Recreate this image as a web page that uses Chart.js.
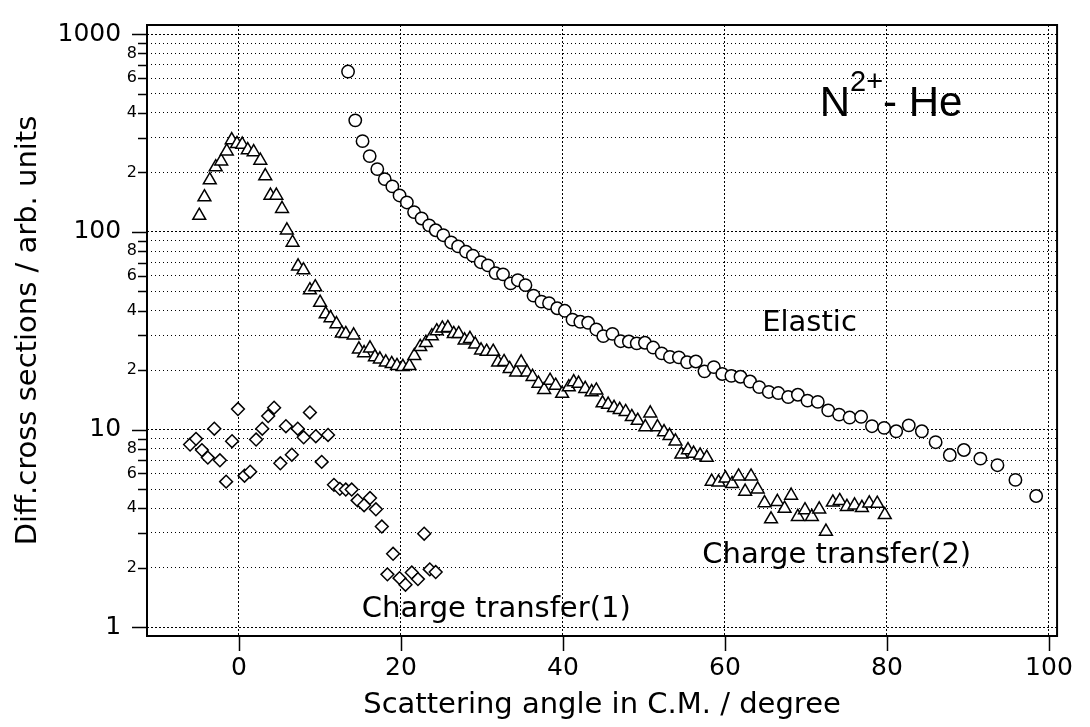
<!DOCTYPE html>
<html>
<head>
<meta charset="UTF-8">
<title>N2+ - He</title>
<script src="https://cdn.jsdelivr.net/npm/chart.js"></script>
<style>
  html, body { margin: 0; padding: 0; background: #fff; }
  #wrap { width: 1090px; height: 727px; }
</style>
</head>
<body>
<div id="wrap"><canvas id="cs"></canvas></div>
<script>
// Elastic (circles)
const elasticX = [13.47, 14.36, 15.26, 16.14, 17.08, 18.00, 18.94, 19.83, 20.73, 21.62,
  22.55, 23.48, 24.29, 25.23, 26.20, 27.06, 28.03, 28.88, 29.85, 30.74,
  31.68, 32.60, 33.54, 34.43, 35.37, 36.37, 37.35, 38.28, 39.29, 40.23,
  41.18, 42.14, 43.11, 44.12, 44.98, 46.11, 47.13, 48.14, 49.11, 50.12,
  51.14, 52.19, 53.21, 54.31, 55.32, 56.41, 57.47, 58.63, 59.67, 60.79,
  61.92, 63.10, 64.23, 65.41, 66.59, 67.81, 69.00, 70.19, 71.46, 72.75,
  74.09, 75.39, 76.81, 78.15, 79.65, 81.14, 82.69, 84.31, 86.01, 87.76,
  89.50, 91.53, 93.64, 95.86, 98.42];
const elasticY = [648, 367, 288, 242, 208, 185, 170, 153, 141, 126,
  117, 108, 102, 96.3, 88.5, 84.5, 79.5, 75.9, 70.3, 67.7,
  61.9, 61.0, 54.9, 57.0, 53.8, 47.6, 44.4, 43.6, 41.1, 39.9,
  36.0, 35.1, 34.7, 32.1, 29.7, 30.5, 28.0, 27.9, 27.3, 27.5,
  26.0, 24.3, 23.3, 23.2, 21.9, 22.1, 19.7, 20.7, 19.1, 18.7,
  18.5, 17.5, 16.4, 15.5, 15.3, 14.6, 15.0, 14.0, 13.8, 12.5,
  11.9, 11.5, 11.6, 10.4, 10.2, 9.80, 10.5, 9.80, 8.63, 7.43,
  7.88, 7.13, 6.60, 5.56, 4.61];

// Charge transfer(2) (triangles)
const ct2X = [-4.90, -4.26, -3.60, -2.87, -2.19, -1.50, -0.89, -0.24, 0.41, 1.09,
  1.82, 2.64, 3.25, 3.89, 4.62, 5.32, 5.92, 6.62, 7.30, 7.96,
  8.76, 9.42, 10.02, 10.71, 11.31, 12.04, 12.70, 13.19, 14.16, 14.81,
  15.45, 16.18, 16.79, 17.40, 18.13, 18.86, 19.51, 20.24, 21.05, 21.65,
  22.38, 23.08, 23.81, 24.42, 25.11, 25.79, 26.52, 27.13, 27.86, 28.52,
  29.16, 29.89, 30.58, 31.39, 32.00, 32.73, 33.42, 34.23, 34.84, 35.57,
  36.25, 36.98, 37.68, 38.41, 39.10, 39.90, 40.72, 41.33, 41.93, 42.75,
  43.55, 44.12, 44.89, 45.58, 46.31, 47.01, 47.74, 48.50, 49.23, 50.17,
  50.78, 51.67, 52.48, 53.16, 53.89, 54.62, 55.44, 56.13, 56.93, 57.75,
  58.36, 59.21, 60.06, 60.88, 61.68, 62.49, 63.22, 64.04, 64.89, 65.69,
  66.47, 67.36, 68.17, 69.00, 69.88, 70.73, 71.64, 72.47, 73.32, 74.17,
  75.06, 76.00, 76.91, 77.82, 78.80, 79.73];
const ct2Y = [121, 150, 183, 213, 228, 256, 292, 279, 277, 260,
  254, 230, 192, 153, 153, 131, 102, 88.4, 67.1, 64.1,
  50.8, 52.6, 43.9, 38.4, 36.7, 34.2, 30.7, 30.5, 30.0, 25.5,
  24.4, 25.8, 23.3, 22.7, 21.9, 21.5, 21.0, 20.8, 21.0, 23.6,
  26.2, 27.5, 29.7, 31.5, 32.5, 32.7, 30.5, 30.5, 28.3, 28.8,
  27.0, 25.2, 24.8, 24.8, 21.9, 22.0, 20.3, 19.5, 21.9, 19.5,
  18.5, 17.1, 15.9, 17.7, 16.7, 15.2, 16.4, 17.4, 17.1, 16.1,
  15.5, 15.8, 13.6, 13.4, 12.9, 12.6, 12.3, 11.6, 11.1, 10.3,
  12.1, 10.3, 9.72, 9.31, 8.73, 7.49, 7.88, 7.57, 7.40, 7.21,
  5.46, 5.41, 5.66, 5.31, 5.80, 4.86, 5.80, 4.99, 4.25, 3.52,
  4.31, 3.98, 4.64, 3.62, 3.91, 3.62, 3.95, 3.05, 4.28, 4.36,
  4.07, 4.14, 4.02, 4.24, 4.22, 3.70];

// Charge transfer(1) (diamonds)
const ct1X = [-6.03, -5.30, -4.57, -3.84, -3.04, -2.35, -1.58, -0.85, -0.12, 0.69,
  1.39, 2.12, 2.88, 3.61, 4.34, 5.11, 5.80, 6.53, 7.26, 7.99,
  8.76, 9.49, 10.22, 11.00, 11.73, 12.46, 13.19, 13.92, 14.65, 15.45,
  16.18, 16.91, 17.64, 18.33, 19.03, 19.83, 20.56, 21.34, 22.10, 22.87,
  23.56, 24.29];
const ct1Y = [8.40, 8.97, 7.87, 7.21, 10.1, 6.99, 5.45, 8.73, 12.7, 5.84,
  6.12, 8.90, 10.1, 11.7, 12.9, 6.75, 10.4, 7.46, 10.1, 9.14,
  12.2, 9.25, 6.86, 9.39, 5.25, 5.01, 4.97, 4.97, 4.38, 4.14,
  4.50, 3.95, 3.23, 1.85, 2.35, 1.77, 1.64, 1.89, 1.75, 2.97,
  1.96, 1.90];

// axes
const xTicks = [0, 20, 40, 60, 80, 100];
const yTicks = [1, 2, 3, 4, 5, 6, 7, 8, 9,
  10, 20, 30, 40, 50, 60, 70, 80, 90,
  100, 200, 300, 400, 500, 600, 700, 800, 900, 1000];
const yLabelled = [2, 4, 6, 8];

// text on the plot: [text, x, y] in data units (y = baseline)
const notes = [
  ['Elastic', 64.6, 31.5],
  ['Charge transfer(2)', 57.2, 2.10],
  ['Charge transfer(1)', 15.17, 1.13]
];

const FONT = "'DejaVu Sans', sans-serif";

function isDecade(v) {
  const e = Math.log10(v);
  return Math.abs(e - Math.round(e)) < 1e-9;
}
function mantissa(v) {
  return Math.round(v / Math.pow(10, Math.floor(Math.log10(v) + 1e-9)));
}

function pts(xs, ys) {
  return xs.map((x, i) => ({x: x, y: ys[i]}));
}

const decor = {
  id: 'decor',
  afterDraw(chart) {
    const {ctx, chartArea: a, scales: {x, y}} = chart;
    ctx.save();
    ctx.strokeStyle = '#000';
    ctx.lineWidth = 1.5;
    ctx.beginPath();
    x.ticks.forEach(t => {
      const px = Math.round(x.getPixelForValue(t.value)) + 0.5;
      ctx.moveTo(px, a.bottom);
      ctx.lineTo(px, a.bottom + 15);
    });
    y.ticks.forEach(t => {
      const py = Math.round(y.getPixelForValue(t.value)) + 0.5;
      ctx.moveTo(a.left, py);
      ctx.lineTo(a.left - (isDecade(t.value) ? 15 : 9), py);
    });
    ctx.stroke();
    ctx.lineWidth = 2;
    ctx.strokeRect(a.left, a.top, a.right - a.left, a.bottom - a.top);

    ctx.fillStyle = '#000';
    ctx.textBaseline = 'alphabetic';
    ctx.textAlign = 'left';
    ctx.font = '29px ' + FONT;
    notes.forEach(n => {
      ctx.fillText(n[0], x.getPixelForValue(n[1]), y.getPixelForValue(n[2]));
    });

    // N2+ - He
    let tx = x.getPixelForValue(71.7);
    const ty = y.getPixelForValue(386);
    ctx.font = "42px 'Liberation Sans', Arial, sans-serif";
    ctx.fillText('N', tx, ty);
    tx += ctx.measureText('N').width;
    ctx.font = "29px 'Liberation Sans', Arial, sans-serif";
    ctx.fillText('2+', tx, ty - 25);
    tx += ctx.measureText('2+').width;
    ctx.font = "42px 'Liberation Sans', Arial, sans-serif";
    ctx.fillText('- He', tx, ty);
    ctx.restore();
  }
};

const markerBase = {
  showLine: false,
  borderColor: '#000',
  backgroundColor: '#fff',
  borderWidth: 1.5,
  pointBorderWidth: 1.5
};

new Chart(document.getElementById('cs'), {
  type: 'scatter',
  data: {
    datasets: [
      Object.assign({label: 'Elastic', data: pts(elasticX, elasticY), pointStyle: 'circle', pointRadius: 6.2}, markerBase),
      Object.assign({label: 'Charge transfer(2)', data: pts(ct2X, ct2Y), pointStyle: 'triangle', pointRadius: 7.4}, markerBase),
      Object.assign({label: 'Charge transfer(1)', data: pts(ct1X, ct1Y), pointStyle: 'rectRot', pointRadius: 6.4}, markerBase)
    ]
  },
  options: {
    responsive: true,
    maintainAspectRatio: false,
    animation: false,
    layout: { padding: { left: 0, right: 20, top: 16, bottom: 0 } },
    plugins: { legend: { display: false }, tooltip: { enabled: false } },
    scales: {
      x: {
        type: 'linear',
        min: -11.35,
        max: 101,
        afterBuildTicks: s => { s.ticks = xTicks.map(v => ({value: v})); },
        afterFit: s => { s.height = 91; },
        grid: { color: '#000', lineWidth: 1, drawTicks: false },
        border: { display: false, dash: [2, 2] },
        ticks: {
          autoSkip: false, maxRotation: 0, padding: 17, color: '#000',
          font: { family: FONT, size: 25 }
        },
        title: {
          display: true, text: 'Scattering angle in C.M. / degree', color: '#000',
          font: { family: FONT, size: 29 }, padding: { top: 0, bottom: 4 }
        }
      },
      y: {
        type: 'logarithmic',
        min: 0.902,
        max: 1115,
        afterBuildTicks: s => { s.ticks = yTicks.map(v => ({value: v})); },
        afterFit: s => { s.width = 147; },
        grid: { color: '#000', lineWidth: 1, drawTicks: false },
        border: {
          display: false,
          dash: c => (c.tick && isDecade(c.tick.value)) ? [2, 2] : [1, 3]
        },
        ticks: {
          autoSkip: false, padding: 10, color: '#000',
          font: c => (c.tick && isDecade(c.tick.value)) ? {family: FONT, size: 25} : {family: FONT, size: 16},
          callback: v => {
            if (isDecade(v)) return v + '  ';
            const m = mantissa(v);
            return yLabelled.includes(m) ? String(m) : '';
          }
        },
        title: {
          display: true, text: 'Diff.cross sections / arb. units', color: '#000',
          font: { family: FONT, size: 29 }, padding: { top: 11, bottom: 0 }
        }
      }
    }
  },
  plugins: [decor]
});
</script>
</body>
</html>
